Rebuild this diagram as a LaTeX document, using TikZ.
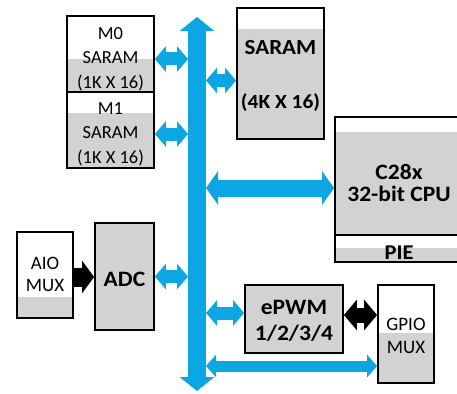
\documentclass[tikz,border=0pt]{standalone}
\usepackage{fontspec}
\setmainfont{Carlito}[BoldFeatures={FakeStretch=1.07}]
\usetikzlibrary{arrows.meta,calc}
\definecolor{busblue}{RGB}{12,166,226}
\definecolor{boxgray}{RGB}{210,210,210}
\begin{document}
\begin{tikzpicture}[x=1pt,y=-1pt,
  box/.style={draw=black,line width=1.8pt,fill=white,inner sep=0pt},
  graybot/.style={path picture={\fill[boxgray] ([yshift=#1]path picture bounding box.south west) rectangle (path picture bounding box.south east);}},
  lbl/.style={inner sep=0pt,align=center,font=\fontsize{18.5}{24.5}\selectfont},
  boldlbl/.style={inner sep=0pt,align=center,font=\bfseries\fontsize{#1}{#1}\selectfont},
  barrow/.style={busblue,line width=13pt,arrows={Triangle[length=11pt,width=25pt]-Triangle[length=11pt,width=25pt]}},
]
\clip (0,0) rectangle (457,393);
\fill[white] (0,0) rectangle (457,393);

% bus
\node[minimum width=18pt,minimum height=374pt,inner sep=0pt,outer sep=0pt] (bus) at (197,204) {};
\draw[busblue,line width=18pt,arrows={Triangle[length=14pt,width=34pt]-Triangle[length=14pt,width=34pt]}] (bus.north) -- (bus.south);

% boxes
\node[box,minimum width=87pt,minimum height=76pt,graybot=33pt] (m0) at (110.5,54) {};
\node[box,minimum width=87pt,minimum height=76pt,graybot=55pt] (m1) at (110.5,130) {};
\node[box,minimum width=87pt,minimum height=131pt,graybot=110pt] (saram) at (280.5,73.5) {};
\node[box,minimum width=128pt,minimum height=118pt,graybot=103pt] (cpu) at (399,176) {};
\node[box,minimum width=128pt,minimum height=27pt,graybot=14pt] (pie) at (399,248.5) {};
\node[box,minimum width=56pt,minimum height=86pt,graybot=21pt] (aio) at (45,275) {};
\node[box,fill=boxgray,minimum width=59pt,minimum height=107pt] (adc) at (124.5,276.5) {};
\node[box,fill=boxgray,minimum width=98pt,minimum height=68pt] (epwm) at (294,319) {};
\node[box,minimum width=56pt,minimum height=98pt,graybot=50pt] (gpio) at (406,334) {};

% labels
\node[lbl] (m0t) at ([yshift=-5pt]m0.center) {M0\\SARAM\\(1K X 16)};
\node[lbl] (m1t) at ([yshift=-4pt]m1.center) {M1\\SARAM\\(1K X 16)};
\node[boldlbl=21.5,font=\bfseries\fontsize{21.5}{54}\selectfont] (sart) at ([yshift=-2.5pt]saram.center) {SARAM\\{\fontsize{20}{54}\selectfont (4K X 16)}};
\node[boldlbl=22,font=\bfseries\fontsize{22}{21.5}\selectfont] (cput) at ([yshift=-7pt]cpu.center) {C28x\\32-bit CPU};
\node[boldlbl=21] (piet) at ([yshift=-4pt]pie.center) {PIE};
\node[lbl,font=\fontsize{19}{22}\selectfont] (aiot) at ([yshift=1pt]aio.center) {AIO\\MUX};
\node[boldlbl=22] (adct) at ([yshift=-3pt]adc.center) {ADC};
\node[boldlbl=22,font=\bfseries\fontsize{22}{26}\selectfont] (epwmt) at ([yshift=-2pt]epwm.center) {ePWM\\1/2/3/4};
\node[lbl,font=\fontsize{19}{22.5}\selectfont] (gpiot) at ([yshift=-2pt]gpio.center) {GPIO\\MUX};

% connectors to bus
\coordinate (m0a) at ([yshift=-5pt]m0.east);
\coordinate (m1a) at ([yshift=-4pt]m1.east);
\coordinate (sra) at ([yshift=-7pt]saram.west);
\coordinate (cpa) at ([yshift=-12pt]cpu.west);
\coordinate (ada) at ([yshift=0pt]adc.east);
\coordinate (epa) at ([yshift=6pt]epwm.west);
\coordinate (gpa) at ([yshift=-32pt]gpio.west);
\coordinate (aia) at ([yshift=-2pt]aio.east);
\coordinate (ega) at ([yshift=4pt]epwm.east);

\draw[barrow] (m0a) -- (m0a -| bus.west);
\draw[barrow] (m1a) -- (m1a -| bus.west);
\draw[barrow] (sra -| bus.east) -- (sra);
\draw[barrow,line width=17pt,arrows={Triangle[length=12pt,width=33pt]-Triangle[length=12pt,width=33pt]}] (cpa -| bus.east) -- (cpa);
\draw[barrow] (ada) -- (ada -| bus.west);
\draw[barrow] (epa -| bus.east) -- (epa);
\draw[barrow,line width=11pt,arrows={Triangle[length=10pt,width=22pt]-Triangle[length=10pt,width=22pt]}] (gpa -| bus.east) -- (gpa);

% black arrows
\draw[black,line width=19pt,arrows={-Triangle[length=12pt,width=32pt]}] (aia) -- (aia -| adc.west);
\draw[black,line width=15pt,arrows={Triangle[length=13pt,width=30pt]-Triangle[length=13pt,width=30pt]}] (ega) -- (ega -| gpio.west);
\end{tikzpicture}
\end{document}
